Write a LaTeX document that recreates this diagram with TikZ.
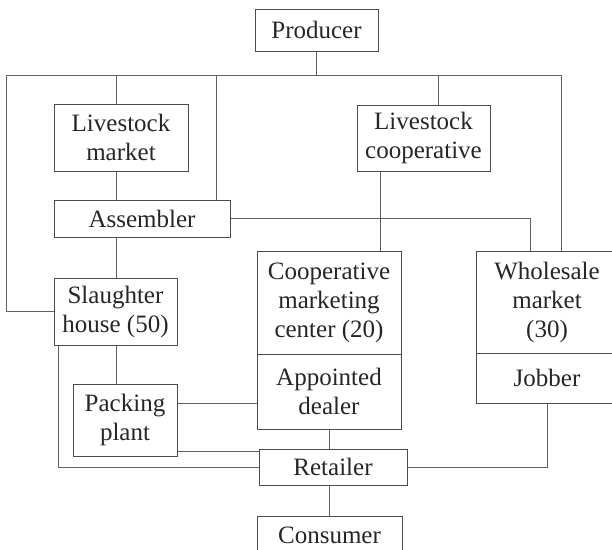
\documentclass[tikz,border=0pt]{standalone}
\usepackage{fontspec}
\setmainfont{Liberation Serif}
\begin{document}
\begin{tikzpicture}[x=1pt,y=-1pt,line width=1pt,font=\fontsize{25}{29}\selectfont,
	box/.style={draw=black!70,text=black!85,align=center,inner sep=0pt},
	link/.style={draw=black!62}]
	\useasboundingbox (0,0) rectangle (612,549);
	\clip (0,0) rectangle (612,549);
	\node[box,minimum width=123pt,minimum height=42pt] (producer) at (316.5,30) {Producer};
	\node[box,minimum width=134pt,minimum height=67pt] (lsmarket) at (121,137.5) {Livestock\\market};
	\node[box,minimum width=133pt,minimum height=66pt] (lscoop) at (423.5,138) {Livestock\\cooperative};
	\node[box,minimum width=176pt,minimum height=37pt] (assembler) at (142,218.5) {Assembler};
	\node[box,minimum width=123pt,minimum height=67pt] (slaughter) at (115.5,311.5) {Slaughter\\house (50)};
	\node[box,minimum width=144pt,minimum height=103pt] (cmc) at (329,302.5) {Cooperative\\marketing\\center (20)};
	\node[box,minimum width=144pt,minimum height=75pt] (dealer) at (329,391.5) {Appointed\\dealer};
	\node[box,minimum width=142pt,minimum height=102pt] (wholesale) at (547,302) {Wholesale\\market\\(30)};
	\node[box,minimum width=142pt,minimum height=50pt] (jobber) at (547,378) {Jobber};
	\node[box,minimum width=104pt,minimum height=72pt] (packing) at (125,420) {Packing\\plant};
	\node[box,minimum width=148pt,minimum height=36pt] (retailer) at (333,467) {Retailer};
	\node[box,minimum width=145pt,minimum height=38pt] (consumer) at (329.5,535) {Consumer};
	% bus under the producer
	\coordinate (busL) at (6,75);
	\coordinate (busR) at (561,75);
	\coordinate (mktT) at ([xshift=-5pt]lsmarket.north);
	\coordinate (asmT) at ([xshift=-14pt]assembler.north east);
	\coordinate (coopT) at ([xshift=15pt]lscoop.north);
	\coordinate (coopB) at ([xshift=-43pt]lscoop.south);
	\coordinate (shL) at ([xshift=5pt]slaughter.south west);
	\coordinate (pkR) at ([yshift=17pt]packing.east);
	\coordinate (pkB) at ([yshift=5pt]packing.south east);
	\draw[link] (busL) -- (busR);
	\draw[link] (producer) -- (producer |- busL);
	\draw[link] (busL) |- (slaughter.west);
	\draw[link] (mktT) -- (mktT |- busL);
	\draw[link] (asmT) -- (asmT |- busL);
	\draw[link] (coopT) -- (coopT |- busL);
	\draw[link] (busR) -- (busR |- wholesale.north);
	\draw[link] (lsmarket.south -| mktT) -- (assembler.north -| mktT);
	\draw[link] (assembler.south -| mktT) -- (slaughter.north -| mktT);
	\draw[link] (slaughter.south -| mktT) -- (packing.north -| mktT);
	\draw[link] (coopB) -- (coopB |- cmc.north);
	\draw[link] (assembler.east) -| ([xshift=-17pt]wholesale.north);
	\draw[link] (shL) |- (retailer.west);
	\draw[link] (pkR) -- (pkR -| dealer.west);
	\draw[link] (pkB) -- (pkB -| retailer.west);
	\draw[link] (dealer.south) -- (dealer.south |- retailer.north);
	\draw[link] (retailer.south -| consumer.north) -- (consumer.north);
	\draw[link] (jobber.south) |- (retailer.east);
\end{tikzpicture}
\end{document}
